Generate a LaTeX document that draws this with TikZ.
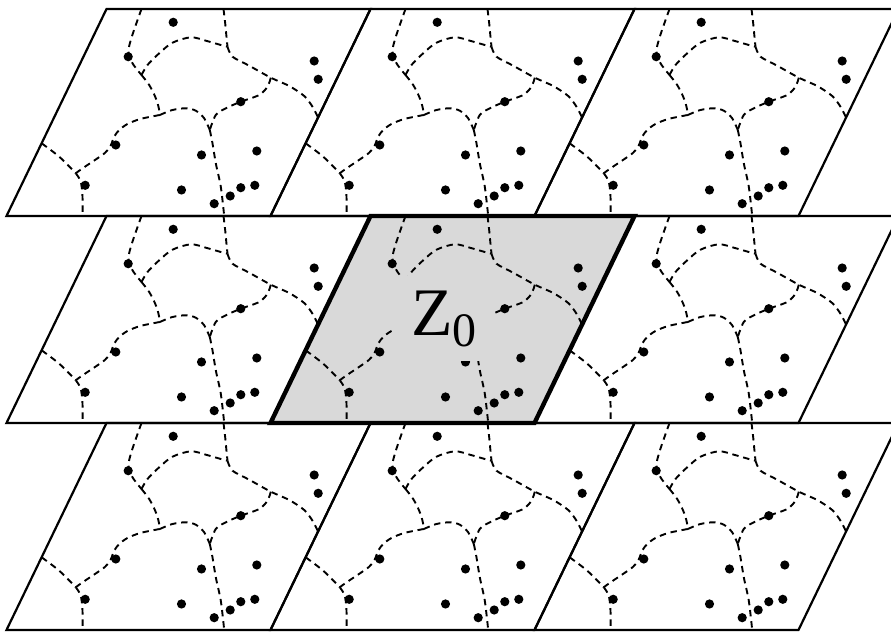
\documentclass[tikz,border=0pt]{standalone}
\usepackage{fontspec}
\setmainfont{Liberation Serif}
\definecolor{cellgray}{gray}{0.85}
\tikzset{
  cellside/.style={line width=1.1pt, line join=miter},
  zoneborder/.style={line width=2.2pt, line join=miter},
  voronoi/.style={line width=0.95pt, dash pattern=on 3.2pt off 2.4pt},
  site/.style={fill=black},
}
% one period of the pattern, bottom-left corner at the origin
\newcommand{\cellsketch}{%
  \draw[voronoi] plot[smooth] coordinates {(135,207) (129.3,191) (124.3,176) (122,164.3) (126,152.7) (135,141)};
  \draw[voronoi] plot[smooth] coordinates {(135,141) (141,151) (152.7,162.7) (166,173.3) (184.3,178.7) (199.3,175.3) (214.3,171) (221,169.3)};
  \draw[voronoi] plot[smooth] coordinates {(217,207) (218.7,192.7) (220,179) (221,169.3)};
  \draw[voronoi] plot[smooth] coordinates {(221,169.3) (226,159.3) (242.7,150.3) (264.3,138.3) (282.7,130) (297.7,120) (306,109.3) (311.6,98.5)};
  \draw[voronoi] plot[smooth] coordinates {(264.3,138.3) (261,129.3) (252.7,121) (234.3,114.3) (219.3,107.7) (209.3,101) (203.3,86)};
  \draw[voronoi] plot[smooth] coordinates {(135,141) (142.7,131) (148.7,119.3) (152,109.3) (153.3,101)};
  \draw[voronoi] plot[smooth] coordinates {(153.3,101) (166,106) (179.3,107.7) (189.3,105.3) (197.7,97.7) (203.3,86)};
  \draw[voronoi] plot[smooth] coordinates {(153.3,101) (144.3,99.3) (132.7,96.7) (121,92) (112.7,86) (107.7,79.3) (104,70) (98.7,63.3) (91,57.7) (81,51) (72.7,45.3) (69.3,42.7)};
  \draw[voronoi] plot[smooth] coordinates {(203.3,86) (206,72.7) (209.3,52.7) (214.3,29.3) (217.7,0)};
  \draw[voronoi] plot[smooth] coordinates {(35.1,72.7) (52.7,59.3) (69.3,42.7)};
  \draw[voronoi] plot[smooth] coordinates {(69.3,42.7) (74.3,34.3) (76,19.3) (76,0)};
  \foreach \u/\v in {166.7/193.7, 121.7/159.3, 307.7/155, 311.7/136.7, 234.3/114.3,
                     109.3/71, 195/61, 250.3/65, 78.7/30.7, 175/26,
                     248.3/30.7, 234.3/28.3, 223.7/20, 207.7/12.3}
    \fill[site] (\u,\v) circle[radius=2.3pt];
}

\begin{document}
\begin{tikzpicture}[x=0.5pt, y=0.5pt]
\useasboundingbox (0,0) rectangle (891,632);
\clip (0,0) rectangle (891,632);
% shaded fundamental zone
\fill[cellgray] (270.5,209) -- ++(264,0) -- ++(100,207) -- ++(-264,0) -- cycle;
\foreach \i in {0,1,2}
  \foreach \j in {0,1,2} {
    \begin{scope}[shift={(6.5+264*\i,2+207*\j)}]
      \cellsketch
    \end{scope}
  }
\node[fill=cellgray, inner sep=0pt, minimum width=51pt, minimum height=42.5pt] (zlabel) at (444,313.5)
  {\fontsize{34}{36}\selectfont Z\raisebox{-5.5pt}{\fontsize{24}{26}\selectfont 0}};
% cell outlines
\foreach \i in {0,1,2}
  \foreach \j in {0,1,2}
    \draw[cellside] (6.5+264*\i,2+207*\j) -- ++(264,0) -- ++(100,207) -- ++(-264,0) -- cycle;
\draw[zoneborder] (270.5,209) -- ++(264,0) -- ++(100,207) -- ++(-264,0) -- cycle;
\end{tikzpicture}
\end{document}
